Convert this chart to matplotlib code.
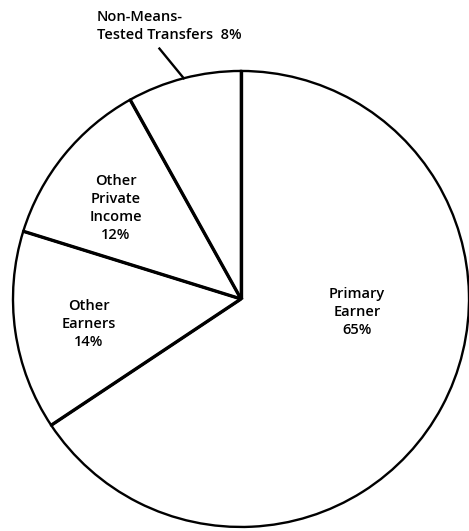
import numpy as np
import matplotlib
matplotlib.use("Agg")
import matplotlib.pyplot as plt

labels = ["Primary\nEarner\n65%", "Other\nEarners\n14%", "Other\nPrivate\nIncome\n12%", "Non-Means-\nTested Transfers  8%"]
values = [65, 14, 12, 8]

plt.rcParams['font.family'] = ['Open Sans', 'DejaVu Sans']

fig = plt.figure(figsize=(4.69, 5.31), dpi=100)
ax = fig.add_axes([0, 0, 1, 1])
ax.axis('off')

wedges, _ = ax.pie(values, startangle=90, counterclock=False, radius=1.0,
                   colors=['white'] * len(values),
                   wedgeprops=dict(edgecolor='black', linewidth=1.7))

# heavier radial boundaries
for w in wedges:
    t = np.deg2rad(w.theta2)
    ax.plot([0, np.cos(t)], [0, np.sin(t)], color='black', lw=2.4, solid_capstyle='butt', zorder=3)

ax.set_xlim(-1.057, 1.0)
ax.set_ylim(-1.0175, 1.311)

fs = 10.5
kw = dict(fontsize=fs, linespacing=1.38, fontweight='semibold')
ax.text(0.509, -0.057, labels[0], ha='center', va='center', **kw)
ax.text(-0.667, -0.110, labels[1], ha='center', va='center', **kw)
ax.text(-0.548, 0.399, labels[2], ha='center', va='center', **kw)
ax.text(-0.632, 1.197, labels[3], ha='left', va='center', **kw)

# leader line for the small slice
w = wedges[3]
mid = np.deg2rad((w.theta1 + w.theta2) / 2)
end = mid + np.deg2rad(3.5)
ax.plot([np.cos(mid), 1.155 * np.cos(end)], [np.sin(mid), 1.155 * np.sin(end)],
        color='black', lw=1.7)

fig.savefig('out.png', dpi=100)
